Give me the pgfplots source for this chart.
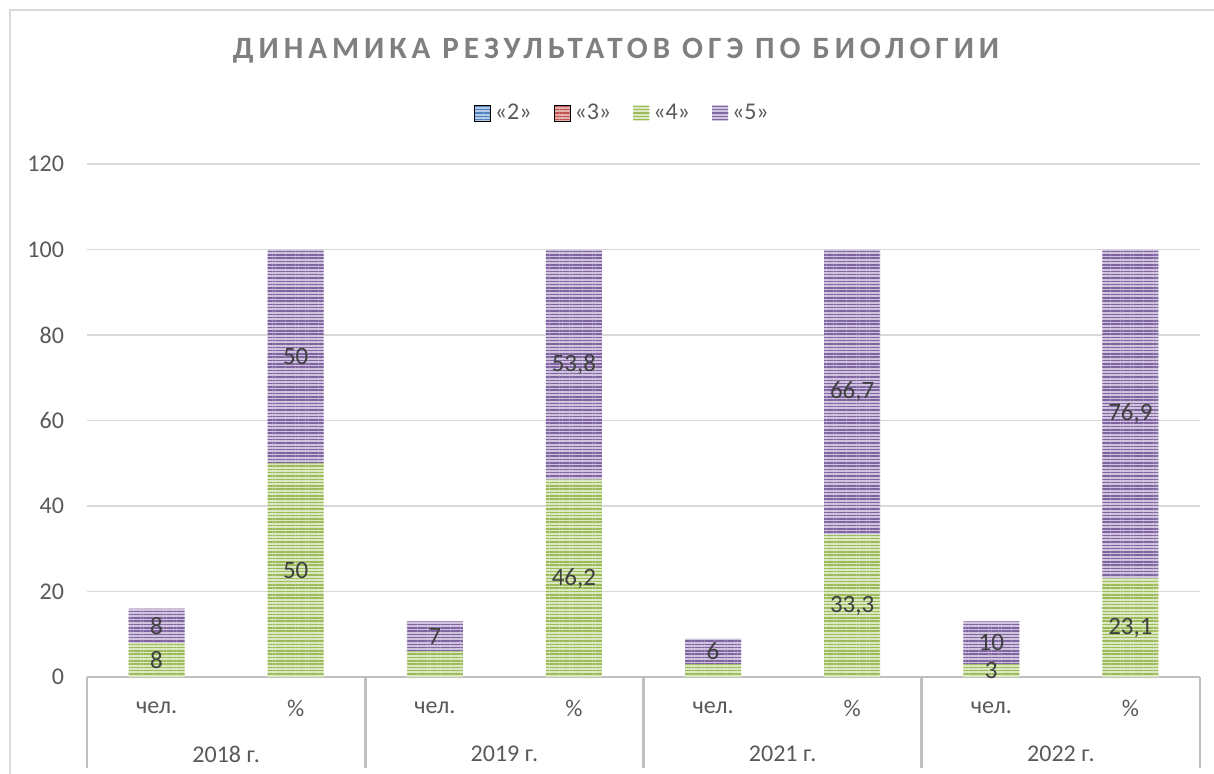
\documentclass[border=0pt]{standalone}
\usepackage{pgfplots}
\pgfplotsset{compat=1.18}
\usepackage{pgfplotstable}
\usetikzlibrary{patterns.meta}
\usepackage{fontspec}
\setmainfont{Carlito}
\newfontfamily\titlefont[LetterSpace=16]{Carlito}
\definecolor{gridc}{HTML}{D9D9D9}
\definecolor{axc}{HTML}{BFBFBF}
\definecolor{txt}{HTML}{595959}
\definecolor{lbl}{HTML}{404040}
\definecolor{ttl}{HTML}{7F7F7F}
\definecolor{bluD}{HTML}{4F81BD}\definecolor{bluL}{HTML}{B3C9E4}
\definecolor{redD}{HTML}{C0504D}\definecolor{redL}{HTML}{E4B0AE}
\definecolor{grnD}{HTML}{9BBB59}\definecolor{grnL}{HTML}{DCE8C3}
\definecolor{purD}{HTML}{8064A2}\definecolor{purL}{HTML}{CFC3DE}
\tikzset{strp/.style 2 args={fill=#1, draw=none, postaction={pattern={Lines[angle=0,distance=1.65pt,line width=0.75pt]}, pattern color=#2}}}

\pgfplotstableread{
x g glab p plab
0 8 8 8 8
1 50 50 50 50
2 6 {} 7 7
3 46.2 46,2 53.8 53,8
4 3 {} 6 6
5 33.3 33,3 66.7 66,7
6 3 3 10 10
7 23.1 23,1 76.9 76,9
}\datatable

\begin{document}
\begin{tikzpicture}
\useasboundingbox (0,0) rectangle (607pt,386.5pt);
\draw[gridc, line width=0.6pt] (5pt,-2pt) -- (5pt,381.5pt) -- (612pt,381.5pt);
\node[font=\titlefont\bfseries\fontsize{15.5}{18}\selectfont, text=ttl] at (308pt,361pt) {ДИНАМИКА РЕЗУЛЬТАТОВ ОГЭ ПО БИОЛОГИИ};
\begin{axis}[
  at={(43.5pt,48pt)}, anchor=south west,
  scale only axis, width=556.5pt, height=256.5pt,
  ybar stacked, bar width=28pt,
  xmin=-0.5, xmax=7.5, ymin=0, ymax=120,
  ytick={0,20,...,120},
  xtick={0,...,7},
  xticklabels={чел.,\%,чел.,\%,чел.,\%,чел.,\%},
  extra x ticks={0.5,2.5,4.5,6.5},
  extra x tick labels={2018 г.,2019 г.,2021 г.,2022 г.},
  extra x tick style={grid=none, tick label style={yshift=-23pt}},
  major tick length=0pt,
  axis line style={draw=none},
  ymajorgrids, grid style={gridc, line width=0.6pt},
  /pgf/number format/assume math mode=true,
  tick label style={font=\fontsize{12}{14}\selectfont, text=txt},
  x tick label style={anchor=center, yshift=-15.5pt},
  y tick label style={xshift=-8pt},
  clip=false,
  legend columns=4,
  legend style={at={(0.482,1.0994)}, anchor=center, draw=none, fill=none,
    font=\fontsize{12}{14}\selectfont, text=txt,
    /tikz/every even column/.append style={column sep=9pt},
    inner sep=0pt},
  legend cell align=left,
  point meta=explicit symbolic,
  nodes near coords,
  every node near coord/.append style={anchor=center, font=\fontsize{12.5}{14}\selectfont, text=lbl},
]
\addlegendimage{legend image code/.code={\path[strp={bluL}{bluD}] (0pt,-4pt) rectangle (8pt,4pt);}}
\addlegendentry{«2»}
\addlegendimage{legend image code/.code={\path[strp={redL}{redD}] (0pt,-4pt) rectangle (8pt,4pt);}}
\addlegendentry{«3»}
\addplot[strp={grnL}{grnD},
  legend image code/.code={\path[strp={grnL}{grnD}] (0pt,-4pt) rectangle (8pt,4pt);}]
  table[x=x, y=g, meta=glab] {\datatable};
\addlegendentry{«4»}
\addplot[strp={purL}{purD},
  legend image code/.code={\path[strp={purL}{purD}] (0pt,-4pt) rectangle (8pt,4pt);}]
  table[x=x, y=p, meta=plab] {\datatable};
\addlegendentry{«5»}
\draw[axc, line width=1.4pt] (axis cs:-0.5,0) -- (axis cs:7.5,0);
\pgfplotsinvokeforeach{-0.5,1.5,3.5,5.5,7.5}{
  \draw[axc, line width=1.4pt] (axis cs:#1,0) -- ++(0pt,-45.5pt);
}
\end{axis}
\end{tikzpicture}
\end{document}
